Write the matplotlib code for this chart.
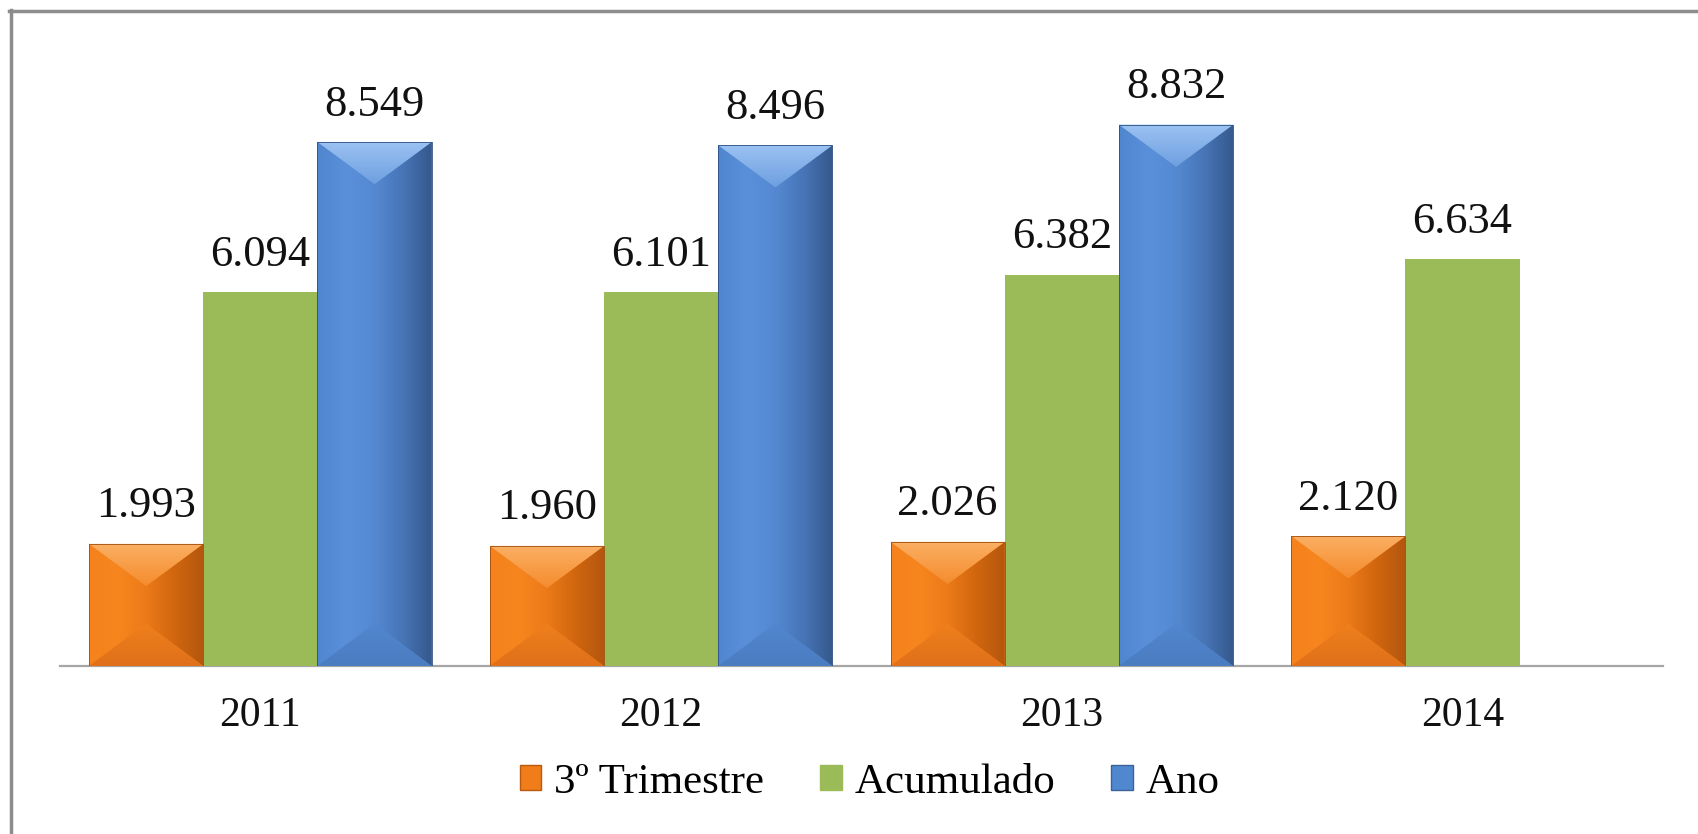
"""
Bar chart: 3º Trimestre / Acumulado / Ano, 2011-2014, with bevelled bars.
Output: out.png
"""
import numpy as np
import matplotlib
matplotlib.use("Agg")
import matplotlib.pyplot as plt
from matplotlib.patches import Polygon, Patch
from matplotlib.lines import Line2D
from matplotlib.colors import LinearSegmentedColormap

years = ["2011", "2012", "2013", "2014"]
trimestre = [1993, 1960, 2026, 2120]
acumulado = [6094, 6101, 6382, 6634]
ano = [8549, 8496, 8832, np.nan]
series_names = ["3º Trimestre", "Acumulado", "Ano"]

ORANGE = "#F07D1A"
GREEN = "#9BBB59"
BLUE = "#5088CF"

# face colours for the bevel look
BEVEL = {
    "orange": {"top": ("#FBB064", "#F58C2E"),
               "mid": ("#F5821C", "#F7861F", "#EC7A18", "#D0660F", "#B4560E"),
               "bottom": ("#EF801C", "#E0701A"),
               "edge": "#A04E10"},
    "blue": {"top": ("#9CC3F3", "#6E9FE0"),
             "mid": ("#4F86CD", "#5A90DA", "#5489D2", "#4775B6", "#35598C"),
             "bottom": ("#5287CF", "#4A7CC0"),
             "edge": "#2E4F80"},
}


def fmt(v):
    return f"{int(v):,}".replace(",", ".")


def shade(ax, pts, colors, extent, vertical, zorder=3):
    poly = Polygon(pts, closed=True, facecolor="none", edgecolor="none")
    ax.add_patch(poly)
    cmap = LinearSegmentedColormap.from_list("f", list(colors))
    g = np.linspace(0, 1, 128)
    grad = g.reshape(-1, 1) if vertical else g.reshape(1, -1)
    im = ax.imshow(grad, cmap=cmap, extent=extent, aspect="auto",
                   origin="upper", interpolation="bilinear", zorder=zorder)
    im.set_clip_path(poly)


def bevel(ax, rect, style):
    x, y = rect.get_x(), rect.get_y()
    w, h = rect.get_width(), rect.get_height()
    if not np.isfinite(h) or h <= 0:
        return
    p0 = ax.transData.transform((0, 0))
    p1 = ax.transData.transform((1, 1))
    sx, sy = p1[0] - p0[0], p1[1] - p0[1]
    d = min(0.37 * w * sx, h * sy / 2) / sy
    c = BEVEL[style]
    xm = x + w / 2
    top, bot = y + h, y
    shade(ax, [(x, top), (xm, top - d), (x + w, top), (x + w, bot),
               (xm, bot + d), (x, bot)], c["mid"], (x, x + w, bot, top), False)
    shade(ax, [(x, top), (x + w, top), (xm, top - d)], c["top"],
          (x, x + w, top - d, top), True)
    shade(ax, [(x, bot), (x + w, bot), (xm, bot + d)], c["bottom"],
          (x, x + w, bot, bot + d), True)
    ax.add_patch(Polygon([(x, bot), (x + w, bot), (x + w, top), (x, top)],
                         closed=True, facecolor="none", edgecolor=c["edge"],
                         linewidth=0.6, zorder=4))


plt.rcParams["font.family"] = ["Liberation Serif", "DejaVu Serif"]

fig = plt.figure(figsize=(16.99, 8.34), dpi=100)
ax = fig.add_axes([0.0353, 0.2014, 0.9435, 0.735])
ax.set_xlim(-0.5, 3.5)
ax.set_ylim(0, 10000)

x = np.arange(len(years))
w = 0.285
b1 = ax.bar(x - w, trimestre, w, color=ORANGE, zorder=2)
b2 = ax.bar(x, acumulado, w, color=GREEN, zorder=2)
b3 = ax.bar(x + w, ano, w, color=BLUE, zorder=2)

for r in b1:
    bevel(ax, r, "orange")
for r in b3:
    bevel(ax, r, "blue")

for bars, vals in [(b1, trimestre), (b2, acumulado), (b3, ano)]:
    for r, v in zip(bars, vals):
        if not np.isfinite(v):
            continue
        ax.annotate(fmt(v), (r.get_x() + r.get_width() / 2, v),
                    xytext=(0, 19), textcoords="offset points",
                    ha="center", va="baseline", fontsize=32, color="#111111",
                    zorder=5)

ax.set_xlim(-0.5, 3.5)
ax.set_ylim(0, 10000)
ax.set_xticks(x)
ax.set_xticklabels(years, fontsize=30, color="#111111")
ax.tick_params(axis="x", length=0, pad=22)
ax.set_yticks([])
for s in ["top", "left", "right"]:
    ax.spines[s].set_visible(False)
ax.spines["bottom"].set_color("#A6A6A6")
ax.spines["bottom"].set_linewidth(1.6)
ax.spines["bottom"].set_zorder(1)

handles = [Patch(facecolor=ORANGE, edgecolor="#B85A10"),
           Patch(facecolor=GREEN, edgecolor=GREEN),
           Patch(facecolor=BLUE, edgecolor="#3A6399")]
fig.legend(handles, series_names, loc="center", bbox_to_anchor=(0.512, 0.062),
           ncol=3, frameon=False, fontsize=31, handlelength=0.5, handleheight=0.5,
           handletextpad=0.3, columnspacing=1.3)

# outer frame (top and left edges only)
fig.add_artist(Line2D([0.0055, 1.0], [0.9865, 0.9865], color="#8C8C8C",
                      linewidth=2.5, transform=fig.transFigure))
fig.add_artist(Line2D([0.0065, 0.0065], [0.0, 0.988], color="#8C8C8C",
                      linewidth=2.5, transform=fig.transFigure))

fig.savefig("out.png", dpi=100)
plt.close(fig)
